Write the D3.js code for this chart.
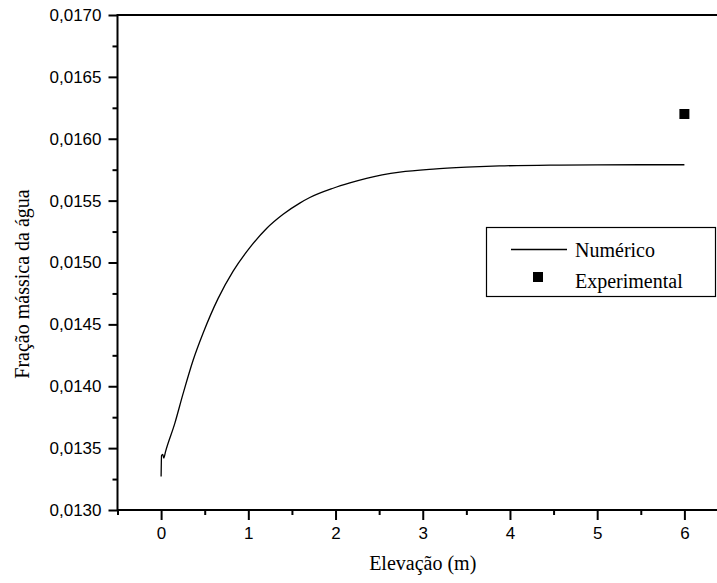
<!DOCTYPE html>
<html>
<head>
<meta charset="utf-8">
<script src="https://cdn.jsdelivr.net/npm/d3@7"></script>
<style>
  html, body { margin: 0; padding: 0; background: #fff; }
  svg { display: block; }
</style>
</head>
<body>
<svg id="chart" width="717" height="583"></svg>
<script>
// ---- data ----
const elevation = [0, 0.005, 0.018, 0.031, 0.05, 0.157, 0.252, 0.367, 0.482, 0.654, 0.826, 1.017, 1.209, 1.399, 1.59, 1.705, 1.972, 2.164, 2.355, 2.737, 3.12, 3.5, 3.88, 4.46, 5.0, 5.5, 6.0];
const numerico  = [0.01327, 0.01344, 0.01345, 0.01342, 0.01347, 0.01370, 0.01394, 0.01421, 0.01443, 0.01471, 0.01493, 0.01512, 0.015275, 0.01539, 0.01548, 0.015525, 0.01560, 0.015643, 0.01568, 0.01573, 0.015755, 0.01577, 0.01578, 0.015787, 0.015789, 0.01579, 0.01579];
const expElevation = [6];
const experimental = [0.0162];
const xTicks = [0, 1, 2, 3, 4, 5, 6];
const xMinorTicks = [-0.5, 0.5, 1.5, 2.5, 3.5, 4.5, 5.5, 6.5];
const yTicks = [0.0130, 0.0135, 0.0140, 0.0145, 0.0150, 0.0155, 0.0160, 0.0165, 0.0170];
const yMinorTicks = [0.01325, 0.01375, 0.01425, 0.01475, 0.01525, 0.01575, 0.01625, 0.01675];
const seriesNames = ["Numérico", "Experimental"];
const xTitle = "Elevação (m)";
const yTitle = "Fração mássica da água";

// ---- layout ----
const svg = d3.select("#chart");
const mLeft = 117.5, mRight = 728, mTop = 15, mBottom = 510;
const x = d3.scaleLinear().domain([-0.5, 6.5]).range([mLeft, mRight]);
const y = d3.scaleLinear().domain([0.013, 0.017]).range([mBottom, mTop]);
const fmt = d => d3.format(".4f")(d).replace(".", ",");

// curve
const line = d3.line()
  .x((d, i) => x(elevation[i]))
  .y(d => y(d))
  .curve(d3.curveMonotoneX);
svg.append("path")
  .datum(numerico)
  .attr("d", line)
  .attr("fill", "none")
  .attr("stroke", "#000")
  .attr("stroke-width", 1.3);

// experimental point
svg.selectAll("rect.exp")
  .data(experimental)
  .enter().append("rect")
  .attr("class", "exp")
  .attr("x", (d, i) => x(expElevation[i]) - 5)
  .attr("y", d => y(d) - 5)
  .attr("width", 10)
  .attr("height", 10)
  .attr("fill", "#000");

// axes
function styleAxis(g, fontSize) {
  g.select(".domain").remove();
  g.selectAll(".tick line").attr("stroke", "#000").attr("stroke-width", 2);
  g.selectAll(".tick text")
    .attr("fill", "#000")
    .style("font-family", "'Liberation Sans', Arial, sans-serif")
    .style("font-size", fontSize + "px");
}

const xAxisG = svg.append("g").attr("transform", `translate(0,${mBottom})`)
  .call(d3.axisBottom(x).tickValues(xTicks).tickFormat(d3.format("d")).tickSize(10).tickPadding(7));
styleAxis(xAxisG, 17);
const xMinorG = svg.append("g").attr("transform", `translate(0,${mBottom})`)
  .call(d3.axisBottom(x).tickValues(xMinorTicks).tickFormat("").tickSize(5));
styleAxis(xMinorG, 17);

const yAxisG = svg.append("g").attr("transform", `translate(${mLeft},0)`)
  .call(d3.axisLeft(y).tickValues(yTicks).tickFormat(fmt).tickSize(9).tickPadding(7));
styleAxis(yAxisG, 17);
const yMinorG = svg.append("g").attr("transform", `translate(${mLeft},0)`)
  .call(d3.axisLeft(y).tickValues(yMinorTicks).tickFormat("").tickSize(5));
styleAxis(yMinorG, 17);

// frame
svg.append("rect")
  .attr("x", mLeft).attr("y", mTop)
  .attr("width", mRight - mLeft).attr("height", mBottom - mTop)
  .attr("fill", "none").attr("stroke", "#000").attr("stroke-width", 2);

// titles
svg.append("text")
  .attr("x", (mLeft + mRight) / 2).attr("y", 570)
  .attr("text-anchor", "middle")
  .style("font-family", "'Liberation Serif', 'Times New Roman', serif")
  .style("font-size", "20px")
  .text(xTitle);
svg.append("text")
  .attr("transform", "translate(29,284) rotate(-90)")
  .attr("text-anchor", "middle")
  .style("font-family", "'Liberation Serif', 'Times New Roman', serif")
  .style("font-size", "20px")
  .text(yTitle);

// legend
const lg = svg.append("g");
lg.append("rect")
  .attr("x", 486.5).attr("y", 227.5).attr("width", 229).attr("height", 69)
  .attr("fill", "#fff").attr("stroke", "#000").attr("stroke-width", 1.2);
lg.append("line")
  .attr("x1", 511).attr("x2", 567).attr("y1", 249.5).attr("y2", 249.5)
  .attr("stroke", "#000").attr("stroke-width", 1.3);
lg.append("rect")
  .attr("x", 533).attr("y", 272).attr("width", 10).attr("height", 10)
  .attr("fill", "#000");
lg.selectAll("text.lg")
  .data(seriesNames)
  .enter().append("text")
  .attr("class", "lg")
  .attr("x", 575)
  .attr("y", (d, i) => 256.5 + i * 31.7)
  .style("font-family", "'Liberation Serif', 'Times New Roman', serif")
  .style("font-size", "20px")
  .text(d => d);
</script>
</body>
</html>
